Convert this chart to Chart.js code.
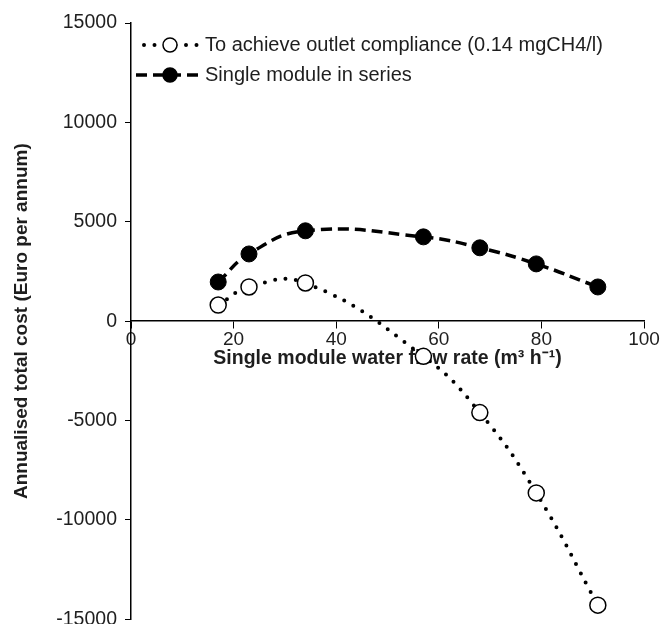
<!DOCTYPE html>
<html>
<head>
<meta charset="utf-8">
<script src="https://cdn.jsdelivr.net/npm/chart.js@4/dist/chart.umd.min.js"></script>
<style>
  html, body { margin: 0; padding: 0; background: #fff; overflow: hidden; }
  #wrap { width: 663px; height: 639px; }
</style>
</head>
<body>
<div id="wrap"><canvas id="grafico" width="663" height="639"></canvas></div>
<script>
// dados
const flowRate = [17, 23, 34, 57, 68, 79, 91];
const complianceCost = [810, 1720, 1920, -1770, -4600, -8640, -14290];
const seriesCost = [1970, 3380, 4545, 4240, 3690, 2880, 1720];
const xTicks = [0, 20, 40, 60, 80, 100];
const yTicks = [-15000, -10000, -5000, 0, 5000, 10000, 15000];
const seriesNames = ['To achieve outlet compliance (0.14 mgCH4/l)', 'Single module in series'];

const fonte = '"Liberation Sans", Arial, sans-serif';
const corTexto = '#1e1e1e';

// legenda desenhada à mão (linha + marcador + texto)
const legendaPlugin = {
    id: 'legendaManual',
    afterDraw(chart) {
        const ctx = chart.ctx;
        const rows = [45, 75];
        chart.data.datasets.forEach(function(ds, i) {
            const y = rows[i];
            ctx.save();
            ctx.strokeStyle = '#000';
            ctx.lineWidth = ds.borderWidth;
            ctx.lineCap = ds.borderCapStyle || 'butt';
            ctx.setLineDash(ds.borderDash || []);
            ctx.beginPath();
            ctx.moveTo(i === 0 ? 144 : 136, y);
            ctx.lineTo(200, y);
            ctx.stroke();
            ctx.setLineDash([]);
            ctx.beginPath();
            ctx.arc(170, y, 7, 0, Math.PI * 2);
            ctx.fillStyle = ds.pointBackgroundColor;
            ctx.fill();
            ctx.lineWidth = 1.5;
            ctx.stroke();
            ctx.fillStyle = corTexto;
            ctx.font = '20px ' + fonte;
            ctx.textBaseline = 'middle';
            ctx.textAlign = 'left';
            ctx.fillText(ds.label, 205, y);
            ctx.restore();
        });
    }
};

const ctx = document.getElementById('grafico');
new Chart(ctx, {
    type: 'line',
    data: {
        datasets: [
            {
                label: seriesNames[0],
                data: flowRate.map((x, i) => ({ x: x, y: complianceCost[i] })),
                borderColor: '#000',
                borderWidth: 4,
                borderDash: [0, 10.5],
                borderCapStyle: 'round',
                tension: 0.45,
                pointRadius: 8,
                pointBorderWidth: 1.5,
                pointBackgroundColor: '#fff',
                pointBorderColor: '#000',
                fill: false
            },
            {
                label: seriesNames[1],
                data: flowRate.map((x, i) => ({ x: x, y: seriesCost[i] })),
                borderColor: '#000',
                borderWidth: 3.5,
                borderDash: [11, 6],
                tension: 0.45,
                pointRadius: 8,
                pointBorderWidth: 1,
                pointBackgroundColor: '#000',
                pointBorderColor: '#000',
                fill: false
            }
        ]
    },
    options: {
        responsive: false,
        animation: false,
        layout: { padding: { left: 6, right: 19, top: 23, bottom: 0 } },
        plugins: {
            legend: { display: false },
            tooltip: { enabled: false }
        },
        scales: {
            x: {
                type: 'linear',
                position: { y: 0 },
                min: 0,
                max: 100,
                afterBuildTicks: function(scale) {
                    scale.ticks = xTicks.map(v => ({ value: v }));
                },
                ticks: {
                    color: corTexto,
                    font: { family: fonte, size: 19 },
                    padding: 0,
                    maxRotation: 0
                },
                grid: { drawOnChartArea: false, drawTicks: true, tickLength: 7, color: '#000', lineWidth: 1 },
                border: { display: true, color: '#000', width: 1.5 },
                title: {
                    display: true,
                    text: 'Single module water flow rate (m³ h⁻¹)',
                    color: corTexto,
                    font: { family: fonte, size: 19.5, weight: 'bold' },
                    padding: { top: -4 }
                }
            },
            y: {
                type: 'linear',
                min: -15000,
                max: 15000,
                afterBuildTicks: function(scale) {
                    scale.ticks = yTicks.map(v => ({ value: v }));
                },
                afterFit: function(scale) {
                    scale.width = 125;
                },
                ticks: {
                    color: corTexto,
                    font: { family: fonte, size: 19.5 },
                    padding: 8,
                    callback: function(value) { return String(value); }
                },
                grid: { drawOnChartArea: false, drawTicks: true, tickLength: 6, color: '#000', lineWidth: 1 },
                border: { display: true, color: '#000', width: 1.5 },
                title: {
                    display: true,
                    text: 'Annualised total cost (Euro per annum)',
                    color: corTexto,
                    font: { family: fonte, size: 19, weight: 'bold' },
                    padding: { bottom: 0 }
                }
            }
        }
    },
    plugins: [legendaPlugin]
});
</script>
</body>
</html>
